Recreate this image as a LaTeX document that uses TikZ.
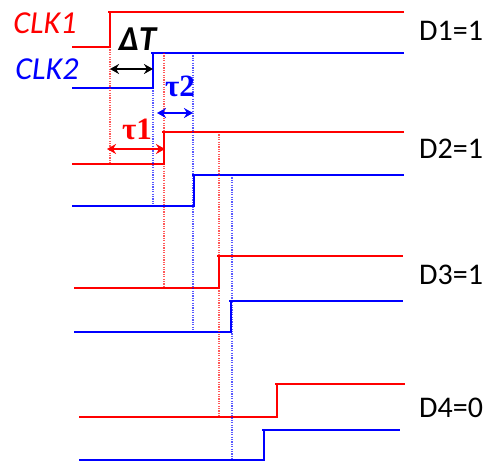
\documentclass[tikz,border=0pt]{standalone}
\usepackage{fontspec}
\setmainfont{Carlito}
\newfontfamily\taufont{Liberation Serif}
\usetikzlibrary{arrows.meta}
\definecolor{WaveRed}{RGB}{255,0,0}
\definecolor{WaveBlue}{RGB}{0,0,255}

\begin{document}
\begin{tikzpicture}[
    x=1pt, y=-1pt,
    every node/.style={inner sep=0pt, font=\fontsize{30}{30}\selectfont},
    wave/.style={line width=1.7pt, line join=miter},
    guide/.style={line width=1.2pt, dash pattern=on 1.2pt off 1.2pt, opacity=0.65},
    span/.style={line width=1.6pt, {Stealth[length=9pt,width=10pt]}-{Stealth[length=9pt,width=10pt]}},
]
\useasboundingbox (0,0) rectangle (487,466);
% signal corners: name/colour/start/edge/end/low/high
\foreach \sig/\col/\xs/\xe/\xf/\yl/\yh in {
    a/WaveRed/72/110/404/47/12,
    b/WaveBlue/72/153/404/88/53,
    c/WaveRed/72/164/404/164/132,
    d/WaveBlue/72/194/404/206/175,
    e/WaveRed/74/219/403/288/256,
    f/WaveBlue/74/231/403/332/301,
    g/WaveRed/79/277/405/417/384,
    h/WaveBlue/79/264/400/460/430} {
    \coordinate (\sig start) at (\xs,\yl);
    \coordinate (\sig low) at (\xe,\yl);
    \coordinate (\sig high) at (\xe,\yh);
    \coordinate (\sig end) at (\xf,\yh);
    \draw[wave, \col] (\sig start) -- (\sig low) -- (\sig high) -- (\sig end);
    \draw[wave, \col] (\sig high) -- +(-2.5,0);
}
% dotted guides
\draw[guide, WaveRed] (alow) -- (alow |- cstart);
\draw[guide, WaveBlue] (blow) -- (blow |- dstart);
\draw[guide, WaveRed] (chigh |- bhigh) -- (chigh |- estart);
\draw[guide, WaveBlue] ([xshift=-1pt]dhigh |- bhigh) -- ([xshift=-1pt]dhigh |- fstart);
\draw[guide, WaveRed] (elow |- chigh) -- (elow |- gstart);
\draw[guide, WaveBlue] ([xshift=1pt]flow |- dhigh) -- ([xshift=1pt]flow |- hstart);
% spans
\coordinate (dtL) at (110,69);
\coordinate (dtR) at (153,69);
\coordinate (tbL) at (157,113);
\coordinate (tbR) at (193,113);
\coordinate (taL) at (107,149);
\coordinate (taR) at (165,149);
\draw[span, black] (dtL) -- (dtR);
\draw[span, WaveBlue] (tbL) -- (tbR);
\draw[span, WaveRed] (taL) -- (taR);
% labels
\node[WaveRed, font=\fontsize{32}{32}\selectfont\itshape] (clkone) at (45,23) {CLK1};
\node[WaveBlue, font=\fontsize{32}{32}\selectfont\itshape] (clktwo) at (47,69) {CLK2};
\node[font=\fontsize{35}{35}\selectfont\itshape\bfseries] (delta) at (137.5,39) {ΔT};
\node[WaveBlue, font=\fontsize{31}{31}\taufont\bfseries] (tautwo) at (180,86) {τ2};
\node[WaveRed, font=\fontsize{31}{31}\taufont\bfseries] (tauone) at (137,129) {τ1};
\node[anchor=west] (done) at (419,31) {D1=1};
\node[anchor=west] (dtwo) at (419,149) {D2=1};
\node[anchor=west] (dthree) at (419,275) {D3=1};
\node[anchor=west] (dfour) at (419,408) {D4=0};
\end{tikzpicture}
\end{document}
